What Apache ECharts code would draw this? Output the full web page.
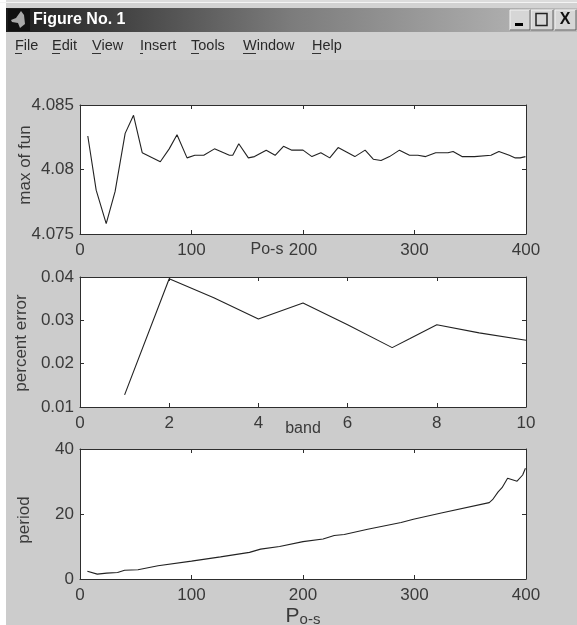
<!DOCTYPE html>
<html>
<head>
<meta charset="utf-8">
<style>html,body{margin:0;padding:0;background:#fff}#c{width:577px;height:625px}</style>
<script src="https://cdn.jsdelivr.net/npm/echarts@6/dist/echarts.min.js"></script>
</head>
<body>
<div id="c"></div>
<script>
var maxFunX = [7,14.5,23.5,31.5,40.5,48,55.8,72,80,87,96,103,111,120.6,134,137,142.4,151,156.5,167,175,182.5,190,200,208,216,224,231.5,246.5,255.7,263,270,277.6,286.5,295.5,303,310,319,330,334.6,342.6,353.8,368.6,375.7,385,390.4,394.7,399.5];
var maxFunY = [4.0826,4.0784,4.0758,4.0783,4.0828,4.0842,4.0813,4.0806,4.0816,4.0827,4.0809,4.0811,4.0811,4.0816,4.0811,4.0811,4.0820,4.0809,4.0810,4.0815,4.0811,4.0818,4.0815,4.0815,4.0810,4.0813,4.0809,4.0817,4.0810,4.0815,4.0808,4.0807,4.0810,4.0815,4.0811,4.0811,4.0810,4.0813,4.0813,4.0814,4.0810,4.0810,4.0811,4.0814,4.0811,4.0809,4.0809,4.0810];
var bandX = [1,2,3,4,5,6,7,7.4,8,8.95,10];
var errorY = [0.0128,0.0396,0.0352,0.0303,0.034,0.029,0.0237,0.0258,0.029,0.0271,0.0254];
var periodX = [6.6,15.5,24,33.7,40,52,70,100,126,152,162,179,200,218,228,237,258,288,299,324,367,370,375,378.5,383.5,392,397,399.5];
var periodY = [2.4,1.5,1.8,2.0,2.7,2.85,4.1,5.5,6.8,8.2,9.2,10,11.5,12.3,13.4,13.7,15.3,17.4,18.4,20.3,23.5,24.4,26.8,28.1,31,30.1,32,34.1];
var menuItems = ['File','Edit','View','Insert','Tools','Window','Help'];
var titleText = 'Figure No. 1';

var FONT = '"Liberation Sans", Arial, sans-serif';
var INK = '#2e2e2e', LABEL = '#3a3a3a';
var menuPos = [15,52,92,140,191,243,312];
var ulWidth = [7,8,9,3,8,13,9];

function zip(a, b) { return a.map(function (v, i) { return [v, b[i]]; }); }

function grids() {
  return [{top:105,height:129},{top:277,height:130},{top:449,height:130}].map(function (g) {
    return {left:80, width:446, top:g.top, height:g.height, backgroundColor:'#fff', show:true, borderWidth:0, outerBoundsMode:'none'};
  });
}
var line = {show:true, onZero:false, lineStyle:{color:INK, width:1}};
var tick = {show:true, inside:true, length:4, lineStyle:{color:INK, width:1}};
function axis(extra, main) {
  var a = {type:'value', gridIndex:extra.gridIndex, min:extra.min, max:extra.max, interval:extra.interval,
    position:extra.position, axisLine:line, axisTick:tick, splitLine:{show:false}, minorTick:{show:false},
    axisLabel:{show:!!main, color:LABEL, fontFamily:FONT, fontSize:17, margin:extra.margin||6,
      showMinLabel:true, showMaxLabel:true, hideOverlap:false,
      formatter:function (v) { return String(parseFloat(v.toFixed(3))); }}};
  if (main && extra.name) {
    a.name = extra.name; a.nameLocation = 'middle'; a.nameGap = extra.nameGap; a.nameMoveOverlap = false;
    a.nameTextStyle = Object.assign({color:LABEL, fontFamily:FONT, fontSize:17}, extra.nameStyle || {});
  }
  return a;
}
var xAxes = [], yAxes = [];
[
  {x:{min:0,max:400,interval:100,name:'Po-s',nameGap:8,margin:8,nameStyle:{padding:[0,72,0,0],fontSize:16}},
   y:{min:4.075,max:4.085,interval:0.005,name:'max of fun',nameGap:46,nameStyle:{padding:[0,0,0,9]}}},
  {x:{min:0,max:10,interval:2,name:'band',nameGap:14,margin:8,nameStyle:{fontSize:16}},
   y:{min:0.01,max:0.04,interval:0.01,name:'percent error',nameGap:50,nameStyle:{padding:[0,2,0,0]}}},
  {x:{min:0,max:400,interval:100,name:'{p|P}{s|o-s}',nameGap:27,margin:8,
      nameStyle:{rich:{p:{fontFamily:FONT,fontSize:21,color:LABEL},s:{fontFamily:FONT,fontSize:15,color:LABEL,padding:[6,0,0,0]}}}},
   y:{min:0,max:40,interval:20,name:'period',nameGap:47,nameStyle:{padding:[0,12,0,0]}}}
].forEach(function (c, i) {
  xAxes.push(axis(Object.assign({gridIndex:i, position:'bottom'}, c.x), true));
  xAxes.push(axis(Object.assign({gridIndex:i, position:'top'}, c.x, {name:null}), false));
  yAxes.push(axis(Object.assign({gridIndex:i, position:'left'}, c.y), true));
  yAxes.push(axis(Object.assign({gridIndex:i, position:'right'}, c.y, {name:null}), false));
});

function series(i, data) {
  return {type:'line', xAxisIndex:i*2, yAxisIndex:i*2, data:data, symbol:'none', smooth:false, silent:true,
    animation:false, clip:false, lineStyle:{color:'#222', width:1.1}};
}

var graphic = [
  {type:'rect', z:-10, shape:{x:6,y:0,width:571,height:625}, style:{fill:'#cccccc'}},
  {type:'rect', z:-9, shape:{x:6,y:0,width:571,height:2}, style:{fill:'#dcdcdc'}},
  {type:'rect', z:-9, shape:{x:0,y:2,width:577,height:1}, style:{fill:'#f4f4f4'}},
  {type:'rect', z:-9, shape:{x:6,y:3,width:571,height:5}, style:{fill:'#d2d2d2'}},
  {type:'rect', z:-9, shape:{x:6,y:32,width:571,height:28}, style:{fill:'#d0d0d0'}},
  {type:'rect', z:-8, shape:{x:6,y:8,width:571,height:24},
    style:{fill:{type:'linear',x:0,y:0,x2:1,y2:0,colorStops:[{offset:0,color:'#1c1c1c'},{offset:0.5,color:'#7c7c7c'},{offset:1,color:'#bcbcbc'}]}}},
  {type:'rect', z:-7, shape:{x:8,y:9,width:22,height:22}, style:{fill:'#111'}},
  {type:'polygon', z:-6, shape:{points:[[11,20],[16,18],[21,11],[24,15],[25,24],[20,28],[18,23],[12,22]]}, style:{fill:'#a8a8a8'}},
  {type:'text', z:-5, x:33, y:20, style:{text:titleText, fontFamily:FONT, fontSize:16, fontWeight:'bold', fill:'#fff', verticalAlign:'middle'}}
];
[[510,20],[531,22],[555,21]].forEach(function (b) {
  graphic.push({type:'rect', z:-5, shape:{x:b[0],y:10,width:b[1],height:20}, style:{fill:'#d6d6d6', stroke:'#f2f2f2', lineWidth:1}});
  graphic.push({type:'polyline', z:-4, shape:{points:[[b[0]+b[1],10],[b[0]+b[1],30],[b[0],30]]}, style:{stroke:'#555', lineWidth:1, fill:null}});
});
graphic.push({type:'rect', z:-3, shape:{x:515,y:23,width:8,height:3}, style:{fill:'#000'}});
graphic.push({type:'rect', z:-3, shape:{x:536,y:13.5,width:11,height:12}, style:{fill:'none', stroke:'#222', lineWidth:1.5}});
graphic.push({type:'text', z:-3, x:565, y:20, style:{text:'X', fontFamily:FONT, fontSize:16, fontWeight:'bold', fill:'#111', align:'center', verticalAlign:'middle'}});
menuItems.forEach(function (m, i) {
  graphic.push({type:'text', z:-3, x:menuPos[i], y:46, style:{text:m, fontFamily:FONT, fontSize:14.5, fill:'#2a2a2a', verticalAlign:'middle'}});
  graphic.push({type:'rect', z:-3, shape:{x:menuPos[i],y:53,width:ulWidth[i],height:1}, style:{fill:'#333'}});
});

var chart = echarts.init(document.getElementById('c'), null, {renderer:'canvas'});
chart.setOption({
  animation:false,
  backgroundColor:'#fff',
  grid:grids(),
  xAxis:xAxes,
  yAxis:yAxes,
  graphic:graphic,
  series:[series(0, zip(maxFunX, maxFunY)), series(1, zip(bandX, errorY)), series(2, zip(periodX, periodY))]
});
</script>
</body>
</html>
